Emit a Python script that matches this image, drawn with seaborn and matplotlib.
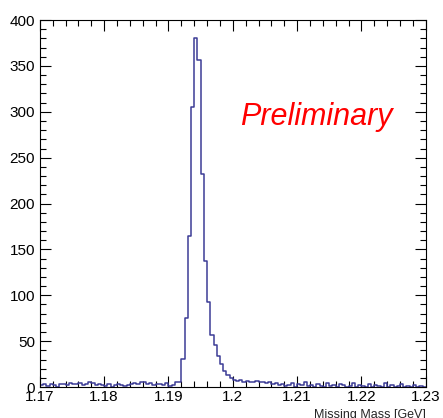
import numpy as np
import pandas as pd
import seaborn as sns
import matplotlib.pyplot as plt
from matplotlib.ticker import MultipleLocator

# histogram: 120 bins of 0.5 MeV between 1.17 and 1.23 GeV
x_min, x_max, n_bins = 1.17, 1.23, 120

left_noise = [2, 3, 1, 3, 2, 0, 3, 3, 2, 4, 3, 3, 4, 2, 3, 5, 4, 2, 3, 2,
              1, 3, 0, 2, 3, 2, 1, 2, 3, 4, 3, 5, 6, 3, 4, 2, 3, 3, 2, 4,
              1, 2, 6]
peak = [5, 31, 75, 165, 305, 380, 357, 232, 137, 93, 57, 46, 34, 25, 18, 13, 10]
tail = [8, 7, 8, 6, 7, 5, 6, 7, 5, 6, 4, 5, 3, 4, 2, 3, 1, 2, 4, 0,
        3, 2, 5, 1, 2, 0, 3, 1, 0, 4, 1, 2, 0, 3, 2, 0, 1, 4, 0, 2,
        1, 0, 3, 0, 2, 1, 0, 4, 0, 2, 0, 1, 3, 0, 1, 0, 2, 0, 1, 0]

counts = np.array(left_noise + peak + tail, dtype=float)
edges = np.linspace(x_min, x_max, n_bins + 1)
centers = 0.5 * (edges[:-1] + edges[1:])
df = pd.DataFrame({"mass": centers, "entries": counts})

sns.set_style("ticks")
plt.rcParams['font.family'] = ['Liberation Sans', 'DejaVu Sans']

fig = plt.figure(figsize=(4.43, 4.18), dpi=100)
ax = fig.add_axes([0.090, 0.074, 0.871, 0.878])

sns.histplot(data=df, x="mass", weights="entries", bins=n_bins,
             binrange=(x_min, x_max), element="step", fill=False,
             color="#3c3c96", linewidth=1.1, ax=ax)

ax.set_xlim(x_min, x_max)
ax.set_ylim(0, 400)
ax.xaxis.set_minor_locator(MultipleLocator(0.002))
ax.yaxis.set_major_locator(MultipleLocator(50))
ax.yaxis.set_minor_locator(MultipleLocator(10))
ax.set_xticks(np.round(np.arange(1.17, 1.2301, 0.01), 2))
ax.set_xticklabels(["1.17", "1.18", "1.19", "1.2", "1.21", "1.22", "1.23"])
ax.tick_params(which="both", direction="in", top=True, right=True,
               labelsize=11, colors="black", width=0.8)
ax.tick_params(which="major", length=8)
ax.tick_params(which="minor", length=4)
ax.tick_params(axis="x", pad=2)
for s in ax.spines.values():
    s.set_linewidth(0.8)
    s.set_color("black")

ax.set_xlabel("")
ax.set_ylabel("")
ax.text(1.0, -0.06, "Missing Mass [GeV]", transform=ax.transAxes,
        ha="right", va="top", fontsize=9)
ax.text(0.716, 0.735, "Preliminary", transform=ax.transAxes, ha="center",
        va="center", fontsize=22, color="red", style="italic")

fig.savefig("out.png", dpi=100)
